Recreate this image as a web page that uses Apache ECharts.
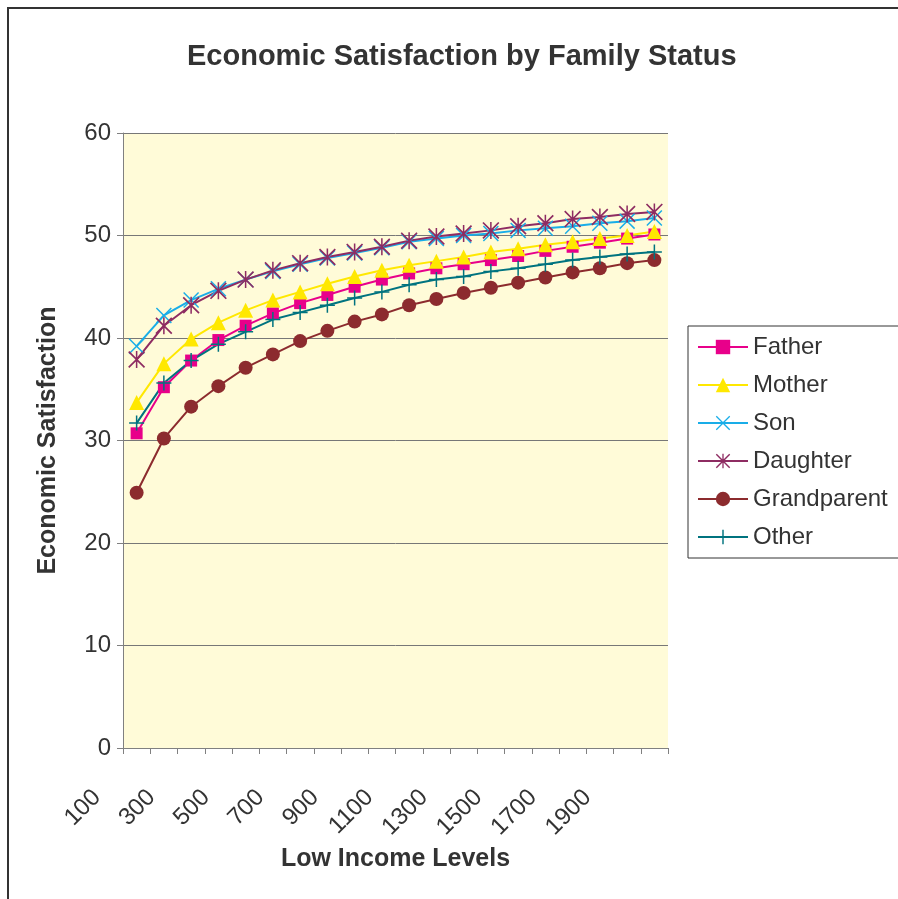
<!DOCTYPE html>
<html>
<head>
<meta charset="utf-8">
<script src="https://cdn.jsdelivr.net/npm/echarts@6/dist/echarts.min.js"></script>
<style>
html,body{margin:0;padding:0;background:#fff;}
#chart{width:898px;height:899px;}
</style>
</head>
<body>
<div id="chart"></div>
<script>
var categories = ['100','200','300','400','500','600','700','800','900','1000','1100','1200','1300','1400','1500','1600','1700','1800','1900','2000'];
var father = [30.7, 35.2, 37.8, 39.8, 41.2, 42.4, 43.4, 44.2, 45.0, 45.7, 46.3, 46.8, 47.2, 47.6, 48.0, 48.5, 48.9, 49.3, 49.7, 50.1];
var mother = [33.7, 37.5, 39.9, 41.5, 42.7, 43.7, 44.5, 45.3, 46.0, 46.6, 47.1, 47.5, 47.9, 48.4, 48.7, 49.1, 49.4, 49.7, 50.0, 50.4];
var son = [39.2, 42.2, 43.7, 44.8, 45.7, 46.5, 47.2, 47.8, 48.3, 48.8, 49.4, 49.7, 50.0, 50.2, 50.5, 50.7, 50.9, 51.2, 51.4, 51.7];
var daughter = [37.9, 41.2, 43.2, 44.6, 45.7, 46.6, 47.3, 47.9, 48.4, 48.9, 49.5, 49.9, 50.2, 50.5, 50.9, 51.2, 51.6, 51.8, 52.1, 52.3];
var grandparent = [24.9, 30.2, 33.3, 35.3, 37.1, 38.4, 39.7, 40.7, 41.6, 42.3, 43.2, 43.8, 44.4, 44.9, 45.4, 45.9, 46.4, 46.8, 47.3, 47.6];
var other = [31.7, 35.6, 37.8, 39.4, 40.6, 41.8, 42.5, 43.2, 43.9, 44.5, 45.2, 45.7, 46.0, 46.5, 46.8, 47.2, 47.6, 47.9, 48.2, 48.4];
var yTicks = [0, 10, 20, 30, 40, 50, 60];

var FONT = '"Liberation Sans", Arial, sans-serif';
var xPath = 'path://M0,1.3 L1.3,0 L10,8.7 L18.7,0 L20,1.3 L11.3,10 L20,18.7 L18.7,20 L10,11.3 L1.3,20 L0,18.7 L8.7,10 Z';
var starPath = 'path://M0,1.4 L1.4,0 L10,8.6 L18.6,0 L20,1.4 L11.4,10 L20,18.6 L18.6,20 L10,11.4 L1.4,20 L0,18.6 L8.6,10 Z M9.1,0 L10.9,0 L10.9,20 L9.1,20 Z';
var plusPath = 'path://M9,0 L11,0 L11,9 L20,9 L20,11 L11,11 L11,20 L9,20 L9,11 L0,11 L0,9 L9,9 Z';

function mk(name, data, color, symbol, size) {
  return {
    name: name, type: 'line', data: data,
    symbol: symbol, symbolSize: size,
    lineStyle: {color: color, width: 2},
    itemStyle: {color: color},
    emphasis: {disabled: true},
    animation: false
  };
}

var chart = echarts.init(document.getElementById('chart'), null, {renderer: 'canvas'});
chart.setOption({
  backgroundColor: '#ffffff',
  animation: false,
  textStyle: {fontFamily: FONT},
  title: {
    text: 'Economic Satisfaction by Family Status',
    left: 182, top: 37,
    textStyle: {fontFamily: FONT, fontSize: 29, fontWeight: 'bold', color: '#333333'}
  },
  grid: {left: 123, top: 133, right: 230, bottom: 151, containLabel: false,
         show: true, backgroundColor: '#FFFBD8', borderWidth: 0},
  legend: {
    orient: 'vertical', left: 688, top: 326,
    padding: [9, 14, 9, 9],
    itemWidth: 50, itemHeight: 18, itemGap: 14,
    borderColor: '#333333', borderWidth: 1, backgroundColor: '#ffffff',
    textStyle: {fontFamily: FONT, fontSize: 24, lineHeight: 24, color: '#333333'},
    data: ['Father', 'Mother', 'Son', 'Daughter', 'Grandparent', 'Other']
  },
  xAxis: {
    type: 'category', data: categories, boundaryGap: true,
    name: 'Low Income Levels', nameLocation: 'middle', nameGap: 98,
    nameTextStyle: {fontFamily: FONT, fontSize: 25, fontWeight: 'bold', color: '#333333'},
    axisLine: {lineStyle: {color: '#808080', width: 1}},
    axisTick: {show: true, length: 6, alignWithLabel: false, interval: 0, lineStyle: {color: '#808080'}},
    axisLabel: {interval: 1, rotate: 45, margin: 6, padding: [0, 56, 0, 0],
                fontFamily: FONT, fontSize: 24, color: '#333333'},
    splitLine: {show: false}
  },
  yAxis: {
    type: 'value', min: 0, max: 60, interval: 10,
    name: 'Economic Satisfaction', nameLocation: 'middle', nameGap: 62,
    nameTextStyle: {fontFamily: FONT, fontSize: 25, fontWeight: 'bold', color: '#333333'},
    axisLine: {show: true, lineStyle: {color: '#808080', width: 1}},
    axisTick: {show: true, length: 6, lineStyle: {color: '#808080'}},
    axisLabel: {margin: 12, fontFamily: FONT, fontSize: 24, color: '#333333',
                formatter: function (v) { return yTicks.indexOf(v) >= 0 ? String(v) : ''; }},
    splitLine: {show: true, lineStyle: {color: '#777777', width: 1}}
  },
  graphic: [{
    type: 'rect', silent: true, z: 100,
    shape: {x: 8, y: 8, width: 1000, height: 1000},
    style: {fill: 'none', stroke: '#333333', lineWidth: 2}
  }],
  series: [
    mk('Father', father, '#E8008A', 'rect', 12),
    mk('Mother', mother, '#FFE800', 'triangle', 15),
    mk('Son', son, '#19ADE8', xPath, 16),
    mk('Daughter', daughter, '#8E2C62', starPath, 17),
    mk('Grandparent', grandparent, '#8C2B2E', 'circle', 14),
    mk('Other', other, '#00737F', plusPath, 15)
  ]
});
</script>
</body>
</html>
